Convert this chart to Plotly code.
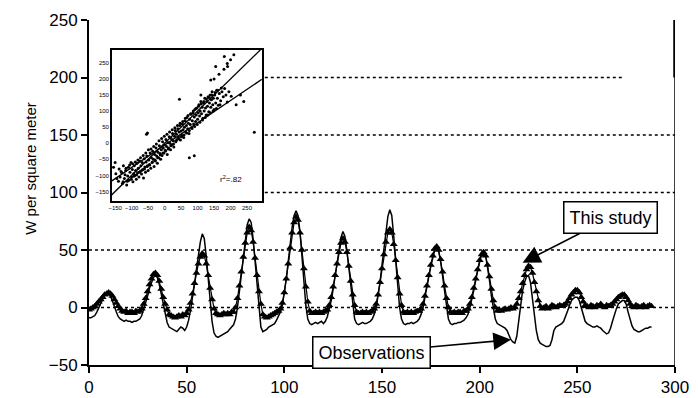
import plotly.graph_objects as go

# ---------------- data ----------------
hours = list(range(289))

this_study = [
    -2, -1, 0, 1,                                              # 0-3
    3, 5, 7, 9, 11, 12, 13, 12, 10, 7, 4, 1, -1,               # 4-16
    -3, -4, -3, -5, -4, -4, -5, -3, -4, -3,                    # 17-26
    -1, 3, 8, 14, 20, 25, 29, 30, 28, 23, 16, 9, 3, -2,        # 27-40
    -6, -7, -8, -9, -8, -7, -8, -6, -7, -5,                    # 41-50
    -2, 4, 12, 21, 30, 38, 44, 47, 45, 38, 28, 17, 7, -1,      # 51-64
    -5, -6, -7, -6, -5, -6, -5, -6, -4, -4,                    # 65-74
    0, 8, 19, 31, 44, 56, 65, 70, 67, 57, 43, 28, 14, 3,       # 75-88
    -6, -8, -9, -8, -7, -6, -5, -4, -3, -1,                    # 89-98
    4, 13, 25, 38, 52, 65, 74, 79, 76, 65, 50, 34, 18, 5,      # 99-112
    -3, -5, -5, -4, -5, -4, -5, -4, -3, -2,                    # 113-122
    2, 9, 18, 28, 38, 48, 56, 60, 57, 48, 36, 23, 11, 2,       # 123-136
    -4, -5, -5, -4, -5, -4, -5, -4, -3, -1,                    # 137-146
    3, 11, 22, 34, 46, 57, 65, 68, 65, 55, 41, 26, 12, 2,      # 147-160
    -4, -5, -4, -5, -4, -5, -4, -3, -3, -1,                    # 161-170
    3, 10, 19, 28, 37, 45, 51, 53, 50, 42, 31, 19, 8, 0,       # 171-184
    -4, -5, -4, -5, -4, -4, -5, -3, -3, -1,                    # 185-194
    3, 9, 17, 25, 33, 41, 46, 48, 45, 37, 27, 16, 6, 0,        # 195-208
    -3, -2, -3, -2, -1, -2, -1, 0, -1, 0,                      # 209-218
    3, 8, 14, 21, 28, 33, 36, 35, 30, 22, 14, 6, 1,            # 219-231
    -1, 0, 1, -1, 0, 2, 1, 0, 1, 2, 1, 2,                      # 232-243
    3, 5, 8, 11, 13, 15, 15, 13, 9, 5, 2,                      # 244-254
    1, 0, 2, 1, 0, 2, 1, 3, 1, 0, 2, 1, 2,                     # 255-267
    3, 5, 7, 9, 10, 11, 11, 9, 6, 3, 1,                        # 268-278
    0, 2, 1, 0, 1, 2, 0, 1, 2, 1,                              # 279-288
]

observations = [
    -9, -9, -8, -7,                                            # 0-3
    -4, 0, 4, 8, 11, 12, 12, 10, 6, 1, -4, -8, -10,            # 4-16
    -11, -12, -11, -12, -12, -13, -12, -12, -11, -10,          # 17-26
    -7, -2, 4, 10, 17, 22, 26, 28, 26, 20, 12, 3, -6, -13,     # 27-40
    -17, -18, -19, -20, -21, -19, -17, -18, -20, -17,          # 41-50
    -11, -2, 8, 20, 33, 46, 57, 64, 60, 45, 25, 5, -12, -22,   # 51-64
    -25, -26, -25, -24, -23, -22, -21, -19, -17, -15,          # 65-74
    -10, 0, 14, 29, 45, 60, 72, 77, 74, 60, 40, 17, -4, -17,   # 75-88
    -21, -20, -19, -17, -16, -15, -14, -11, -8, -4,            # 89-98
    2, 12, 25, 40, 56, 70, 80, 84, 80, 66, 45, 22, 2, -10,     # 99-112
    -14, -15, -14, -13, -14, -13, -12, -14, -12, -8,           # 113-122
    -2, 6, 16, 28, 40, 52, 61, 66, 62, 50, 34, 16, 0, -10,     # 123-136
    -14, -15, -14, -13, -14, -14, -13, -12, -10, -6,           # 137-146
    0, 10, 22, 37, 52, 67, 79, 85, 80, 62, 40, 18, 0, -10,     # 147-160
    -14, -15, -14, -14, -13, -14, -13, -12, -10, -6,           # 161-170
    0, 8, 17, 27, 36, 44, 50, 52, 49, 40, 28, 14, 0, -10,      # 171-184
    -14, -15, -14, -14, -13, -13, -12, -11, -9, -6,            # 185-194
    0, 7, 15, 24, 33, 41, 47, 50, 46, 36, 24, 10, -2, -10,     # 195-208
    -14, -15, -16, -17, -18, -20, -24, -28, -30, -31,          # 209-218
    -25, -12, 3, 15, 22, 27, 28, 22, 8, -8, -20, -28, -31,     # 219-231
    -32, -33, -34, -34, -33, -28, -20, -17, -16, -15, -14, -12,  # 232-243
    -8, -3, 2, 6, 8, 9, 9, 6, 0, -7, -12,                      # 244-254
    -14, -15, -16, -17, -17, -16, -17, -18, -20, -22, -23, -22, -18,  # 255-267
    -12, -6, -1, 3, 5, 6, 6, 3, -4, -11, -16,                  # 268-278
    -19, -20, -21, -21, -20, -19, -18, -18, -17, -17,          # 279-288
]

# inset scatter (observed vs modelled)
inset_x = [
    -148, -140, -138, -135, -130, -128, -125, -122, -120, -118, -115, -112, -110, -108,
    -105, -102, -100, -98, -96, -94, -92, -90, -88, -86, -84, -82, -80, -78, -76, -74,
    -72, -70, -68, -66, -64, -62, -60, -58, -56, -54, -52, -50, -48, -46, -44, -42,
    -40, -38, -36, -34, -32, -30, -28, -26, -24, -22, -20, -18, -16, -14, -12, -10,
    -8, -6, -4, -2, 0, 2, 4, 6, 8, 10, 12, 14, 16, 18, 20, 22, 24, 26, 28, 30, 32,
    34, 36, 38, 40, 42, 44, 46, 48, 50, 52, 54, 56, 58, 60, 62, 64, 66, 68, 70, 72,
    74, 76, 78, 80, 82, 84, 86, 88, 90, 92, 94, 96, 98, 100, 102, 104, 106, 108, 110,
    112, 114, 116, 118, 120, 122, 124, 126, 128, 130, 132, 134, 136, 138, 140, 142,
    144, 146, 148, 150, 152, 155, 158, 160, 163, 166, 170, 174, 178, 182, 186, 190, 195,
    -52, -55, 45, 90, 75, 272, 200, 190, 180, 210, 150, 165, 230, 240, -150, -155,
    181, 191, 155, 140, 110, 202, 217,
    -145, -132, -126, -117, -113, -106, -101, -97, -93, -89,
    -85, -81, -77, -73, -69, -65, -61, -57, -53, -49,
    -45, -41, -37, -33, -29, -25, -21, -17, -13, -9,
    -5, -1, 3, 7, 11, 15, 19, 23, 27, 31,
    35, 39, 43, 47, 51, 55, 59, 63, 67, 71,
    75, 79, 83, 87, 91, 95, 99, 103, 107, 111,
    115, 119, 123, 127, 131, 135, 139, 143, 147, 153,
    157, 161, 168, 172,
]
inset_y = [
    -95, -118, -80, -105, -92, -125, -70, -110, -98, -85, -130, -102, -75, -115,
    -90, -60, -105, -82, -120, -95, -70, -100, -85, -112, -62, -92, -78, -105, -55, -88,
    -70, -96, -60, -82, -108, -48, -74, -90, -58, -40, -70, -85, -52, -66, -30, -78,
    -45, -60, -25, -50, -72, -35, -55, -15, -40, -62, -28, -45, -8, -32, -50, -20,
    -38, 5, -15, -30, -5, -22, 12, -10, -35, 2, -15, 20, 0, -20, 15, -5, 30, 8, -12, 22, 40,
    5, 28, 12, 45, 20, 35, 55, 10, 38, 25, 60, 42, 18, 50, 70, 35, 55, 80, 45, 62,
    30, 75, 58, 90, 48, 70, 95, 60, 82, 105, 68, 88, 110, 75, 95, 120, 85, 100, 130,
    92, 112, 78, 125, 100, 140, 110, 88, 130, 115, 145, 98, 125, 150, 112, 135,
    160, 120, 140, 105, 150, 125, 165, 140, 118, 155, 132, 160, 145, 170, 150, 128, 160,
    32, 28, 137, -39, -45, 34, 260, 248, 230, 275, 200, 215, 150, 130, -60, -75,
    270, 239, 239, 197, 150, 146, 120,
    -110, -88, -120, -78, -118, -68, -112, -64, -103, -58,
    -98, -52, -90, -45, -84, -38, -80, -30, -72, -20,
    -68, -18, -58, -10, -52, -2, -45, 8, -36, 15,
    -30, 22, -24, 28, -18, 35, -8, 42, -2, 48,
    8, 55, 14, 62, 20, 68, 26, 78, 32, 86,
    40, 92, 46, 100, 52, 108, 58, 115, 65, 122,
    72, 130, 80, 138, 88, 142, 95, 150, 100, 158,
    108, 165, 120, 172,
]
one_to_one_x = [-170, 300]
one_to_one_y = [-170, 300]
regression_x = [-160, 295]
regression_y = [-117, 199]

y_ticks = [-50, 0, 50, 100, 150, 200, 250]
x_ticks = [0, 50, 100, 150, 200, 250, 300]
inset_ticks = [-150, -100, -50, 0, 50, 100, 150, 200, 250]

FONT = "Liberation Sans"

fig = go.Figure()

fig.add_trace(go.Scatter(
    x=hours[:len(observations)], y=observations, mode="lines",
    line=dict(color="black", width=1.5), name="Observations",
    xaxis="x", yaxis="y"))
fig.add_trace(go.Scatter(
    x=hours[:len(this_study)], y=this_study, mode="lines+markers",
    line=dict(color="black", width=1.2),
    marker=dict(symbol="triangle-up", size=7, color="black"),
    name="This study", xaxis="x", yaxis="y"))

# inset traces
fig.add_trace(go.Scatter(
    x=inset_x, y=inset_y, mode="markers",
    marker=dict(size=3, color="black"), xaxis="x2", yaxis="y2"))
fig.add_trace(go.Scatter(
    x=one_to_one_x, y=one_to_one_y, mode="lines",
    line=dict(color="black", width=1.3), xaxis="x2", yaxis="y2"))
fig.add_trace(go.Scatter(
    x=regression_x, y=regression_y, mode="lines",
    line=dict(color="black", width=1.3), xaxis="x2", yaxis="y2"))

shapes = []
# dotted horizontal reference lines
for v, x0, x1 in [(0, 0, 300), (50, 0, 300), (100, 90, 300), (150, 90, 300), (200, 90, 274)]:
    shapes.append(dict(type="line", xref="x", yref="y", x0=x0, x1=x1, y0=v, y1=v,
                       line=dict(color="black", width=1.3, dash="dot"), layer="below"))
# right frame line
shapes.append(dict(type="line", xref="x", yref="paper", x0=300, x1=300, y0=0, y1=1,
                   line=dict(color="black", width=1.5)))
shapes.append(dict(type="line", xref="x", yref="y", x0=300, x1=300, y0=200, y1=250,
                   line=dict(color="black", width=3.5)))

annotations = [
    dict(text="W per square meter", xref="paper", yref="paper", x=-0.10, y=0.57,
         textangle=-90, showarrow=False, font=dict(family=FONT, size=15, color="black"),
         xanchor="center", yanchor="middle"),
    dict(text="r<sup>2</sup>=.82", xref="x2", yref="y2", x=200, y=-110, showarrow=False,
         font=dict(family=FONT, size=8, color="black")),
    dict(text="This study", xref="x", yref="y", x=222, y=39, ax=267, ay=78,
         axref="x", ayref="y", showarrow=True, arrowhead=2, arrowsize=2.2,
         arrowwidth=1.6, arrowcolor="black",
         font=dict(family=FONT, size=18, color="black"), bgcolor="white",
         bordercolor="black", borderwidth=1.5, borderpad=5),
    dict(text="Observations", xref="x", yref="y", x=216, y=-28, ax=144.5, ay=-39,
         axref="x", ayref="y", showarrow=True, arrowhead=2, arrowsize=2.2,
         arrowwidth=1.6, arrowcolor="black",
         font=dict(family=FONT, size=18, color="black"), bgcolor="white",
         bordercolor="black", borderwidth=1.5, borderpad=5),
]

# page body has an 8px margin: figure is 690x390 and sits at (8, 8)
fig.update_layout(
    width=690, height=390,
    margin=dict(l=81, r=23, t=12, b=33),
    paper_bgcolor="white", plot_bgcolor="rgba(0,0,0,0)",
    showlegend=False,
    font=dict(family=FONT, color="black"),
    xaxis=dict(range=[0, 300], tickvals=x_ticks, showgrid=False, zeroline=False,
               showline=True, linecolor="black", linewidth=1.8, automargin=False,
               ticks="outside", ticklen=6, tickwidth=1.5, tickcolor="black",
               tickfont=dict(family=FONT, size=17, color="black")),
    yaxis=dict(range=[-50, 250], tickvals=y_ticks, showgrid=False, zeroline=False,
               showline=True, linecolor="black", linewidth=1.8, automargin=False,
               ticks="outside", ticklen=6, tickwidth=1.5, tickcolor="black",
               tickfont=dict(family=FONT, size=17, color="black")),
    xaxis2=dict(domain=[0.039, 0.295], anchor="y2", range=[-160, 295],
                tickvals=inset_ticks, showgrid=False, zeroline=False, automargin=False,
                showline=True, mirror=True, linecolor="black", linewidth=1.5,
                ticks="", tickfont=dict(family=FONT, size=6, color="black")),
    yaxis2=dict(domain=[0.475, 0.913], anchor="x2", range=[-180, 290],
                tickvals=inset_ticks, showgrid=False, zeroline=False, automargin=False,
                showline=True, mirror=True, linecolor="black", linewidth=1.5,
                ticks="", tickfont=dict(family=FONT, size=6, color="black")),
    shapes=shapes,
    annotations=annotations,
)

fig.write_html("out.html")
